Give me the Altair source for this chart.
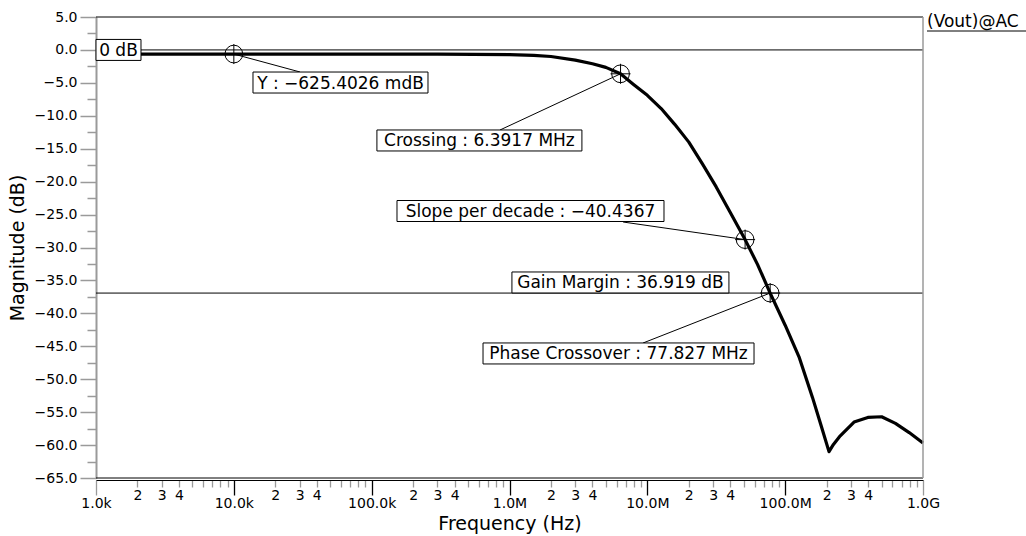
import json
import altair as alt
import pandas as pd

# AC magnitude response of V(out)
freq_hz = [1e3, 1e4, 1e5, 3e5, 1e6, 1.5e6, 2e6, 3e6, 4e6, 5e6, 6.3917e6, 7.9e6,
           1e7, 1.26e7, 1.58e7, 2e7, 2.51e7, 3.16e7, 3.98e7, 5.12e7, 6.31e7,
           7.7827e7, 1e8, 1.26e8, 1.58e8, 1.82e8, 2.08e8, 2.24e8, 2.51e8,
           3.16e8, 3.98e8, 5.01e8, 6.31e8, 7.94e8, 1e9]
mag_db = [-0.625, -0.6254, -0.627, -0.64, -0.72, -0.82, -1.0, -1.55, -2.1,
          -2.65, -3.6254, -5.2, -6.9, -8.9, -11.3, -14.0, -17.3, -20.8, -24.6,
          -28.8, -32.6, -36.919, -41.8, -46.6, -52.8, -57.0, -61.0, -59.9,
          -58.6, -56.5, -55.8, -55.7, -56.7, -58.1, -59.7]

# measurement markers on the curve
marker_freq = [1e4, 6.3917e6, 5.12e7, 7.7827e7]
marker_db = [-0.6254, -3.6254, -28.8, -36.919]

# horizontal reference levels (0 dB and gain-margin level)
ref_db = [0.0, -36.919]

# annotation boxes: text and anchor (box centre) in data units
label_text = ["0 dB", "Y : \u2212625.4026 mdB", "Crossing : 6.3917 MHz",
              "Slope per decade : \u221240.4367", "Gain Margin : 36.919 dB",
              "Phase Crossover : 77.827 MHz"]
label_freq = [1.456e3, 5.94e4, 6.05e5, 1.42e6, 6.38e6, 6.18e6]
label_db = [0.0, -4.95, -13.75, -24.46, -35.31, -46.09]
label_box_w = [45, 175, 205, 267, 217, 271]

# leader lines: marker -> box edge
leader_freq2 = [3.02e4, 8.53e5, 6.67e6, 9.31e6]
leader_db2 = [-3.35, -12.16, -26.13, -44.5]

# axis tick labels
x_decade_labels = ["1.0k", "10.0k", "100.0k", "1.0M", "10.0M", "100.0M", "1.0G"]
x_minor_labels = ["2", "3", "4"]
y_tick_values = [-65 + 2.5 * i for i in range(29)]

x_tick_values, x_tick_text, x_major = [], [], []
for d, lab in zip(range(3, 9), x_decade_labels[:-1]):
    for m in range(1, 10):
        x_tick_values.append(m * 10 ** d)
        if m == 1:
            x_tick_text.append(lab)
            x_major.append(10 ** d)
        elif m - 2 < len(x_minor_labels):
            x_tick_text.append(x_minor_labels[m - 2])
        else:
            x_tick_text.append("")
x_tick_values.append(10 ** 9)
x_tick_text.append(x_decade_labels[-1])
x_major.append(10 ** 9)

FONT = "DejaVu Sans"
GRAY = "#9a9a9a"
x_major_test = f"indexof({json.dumps(x_major)}, datum.value) >= 0"
# decade ticks inside the frame are black; the ones on the frame edges stay gray
x_black_test = f"indexof({json.dumps(x_major[1:-1])}, datum.value) >= 0"
y_major_test = "datum.value % 5 === 0"

x_scale = alt.Scale(type="log", domain=[1e3, 1e9])
y_scale = alt.Scale(domain=[-65, 5], nice=False, zero=False)

x_axis = alt.Axis(
    values=x_tick_values,
    labelExpr=f"{json.dumps(x_tick_text)}[indexof({json.dumps(x_tick_values)}, datum.value)]",
    title="Frequency (Hz)", grid=False, offset=2,
    domainColor="black", domainWidth=1,
    tickColor={"condition": {"test": x_black_test, "value": "black"}, "value": GRAY},
    tickSize={"condition": {"test": x_major_test, "value": 15}, "value": 7},
    labelPadding={"condition": {"test": x_major_test, "value": 1}, "value": 1},
    tickWidth=1.3, labelOverlap=False, labelFlush=False, labelBound=False,
    labelFont=FONT, labelFontSize=14, labelColor="black",
    titleFont=FONT, titleFontSize=19, titleFontWeight="normal",
    titleColor="black", titlePadding=4,
)
y_axis = alt.Axis(
    values=y_tick_values,
    labelExpr=f"{y_major_test} ? format(datum.value, '.1f') : ''",
    title="Magnitude (dB)", grid=False,
    domainColor=GRAY, domainWidth=2, tickColor=GRAY, tickWidth=1.5,
    tickSize={"condition": {"test": y_major_test, "value": 16}, "value": 9},
    labelPadding=3, labelOverlap=False, labelFlush=False, labelBound=False,
    labelFont=FONT, labelFontSize=14, labelColor="black",
    titleFont=FONT, titleFontSize=19, titleFontWeight="normal",
    titleColor="black", titlePadding=7,
)

X = alt.X("freq:Q", scale=x_scale, axis=x_axis)
Y = alt.Y("mag:Q", scale=y_scale, axis=y_axis)

curve_df = pd.DataFrame({"freq": freq_hz, "mag": mag_db})
curve = alt.Chart(curve_df).mark_line(
    color="black", strokeWidth=3.2, strokeJoin="round").encode(x=X, y=Y)

ref_lines = alt.Chart(pd.DataFrame({"mag": ref_db})).mark_rule(
    color="black", strokeWidth=1).encode(y=Y)

top_border = alt.Chart(pd.DataFrame({"mag": [5.0]})).mark_rule(
    color="black", strokeWidth=1).encode(y=Y)
bottom_border = alt.Chart(pd.DataFrame({"mag": [-65.0]})).mark_rule(
    color="black", strokeWidth=1).encode(y=Y)
right_border = alt.Chart(pd.DataFrame({"freq": [1e9]})).mark_rule(
    color=GRAY, strokeWidth=1.5).encode(x=X)

leader_df = pd.DataFrame({"freq": marker_freq, "mag": marker_db,
                          "freq2": leader_freq2, "mag2": leader_db2})
leaders = alt.Chart(leader_df).mark_rule(color="black", strokeWidth=1).encode(
    x=X, x2="freq2:Q", y=Y, y2="mag2:Q")

label_df = pd.DataFrame({"freq": label_freq, "mag": label_db, "text": label_text})
boxes = []
for i, w in enumerate(label_box_w):
    boxes.append(
        alt.Chart(label_df.iloc[[i]]).mark_rect(
            width=w, height=21, fill="white", stroke="black", strokeWidth=1
        ).encode(x=X, y=Y)
    )
labels = alt.Chart(label_df).mark_text(
    font=FONT, fontSize=17, color="black", align="center", baseline="middle", dy=1
).encode(x=X, y=Y, text="text:N")

marker_df = pd.DataFrame({"freq": marker_freq, "mag": marker_db})
rings = alt.Chart(marker_df).mark_point(
    shape="circle", size=314, filled=False, color="black", strokeWidth=1, opacity=1
).encode(x=X, y=Y)
crosses = alt.Chart(marker_df).mark_point(
    shape="M-1,0L1,0M0,-1L0,1", size=400, filled=False, color="black",
    strokeWidth=1, opacity=1
).encode(x=X, y=Y)

# trace name at the top right, underlined
trace_name = alt.Chart(pd.DataFrame({"t": ["(Vout)@AC"]})).mark_text(
    font=FONT, fontSize=17, color="black", align="left", baseline="alphabetic"
).encode(text="t:N", x=alt.value(831), y=alt.value(10))
trace_underline = alt.Chart(pd.DataFrame({"t": [0]})).mark_rule(
    color="black", strokeWidth=1).encode(
    x=alt.value(831), x2=alt.value(940), y=alt.value(14))

chart = alt.layer(
    curve, ref_lines, top_border, bottom_border, right_border, leaders,
    *boxes, labels, rings, crosses, trace_name, trace_underline,
).properties(
    width=827, height=461,
    autosize=alt.AutoSizeParams(type="none"),
    padding={"left": 96, "top": 17, "right": 103, "bottom": 58},
    background="white",
).configure_view(stroke=None)

chart.save("out.html", embed_options={"renderer": "svg", "actions": False})
